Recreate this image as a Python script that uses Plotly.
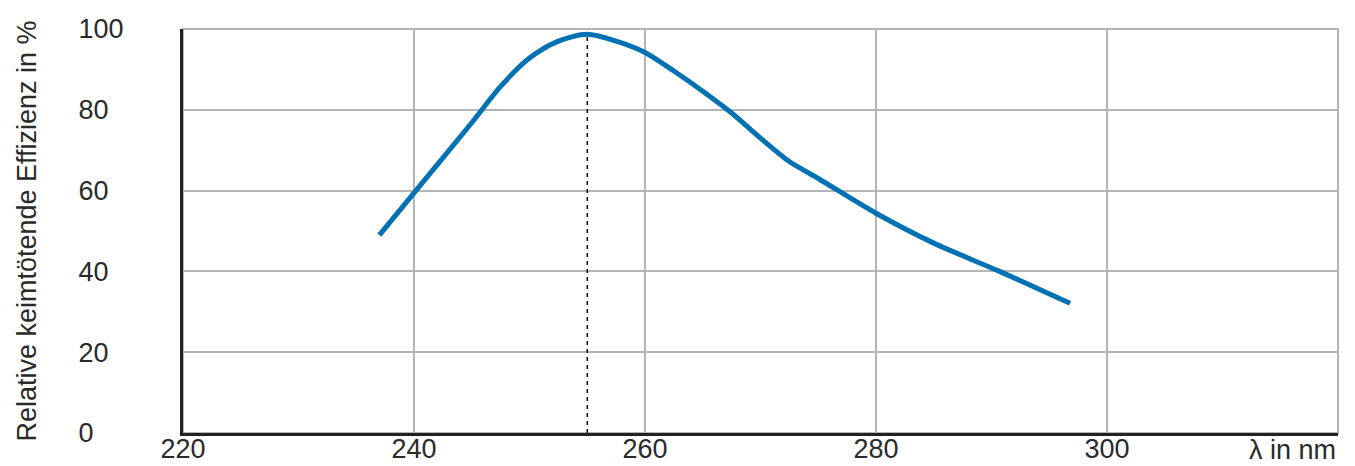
import plotly.graph_objects as go

# Data
wavelength = [237.0, 241.0, 245.0, 247.5, 250.0, 252.5, 255.0, 257.5, 260.0, 262.5,
              265.0, 267.5, 270.0, 272.5, 275.0, 280.0, 285.0, 290.7, 296.8]
efficiency = [49.0, 62.9, 76.8, 85.8, 92.8, 97.0, 98.7, 97.0, 94.2, 89.6,
              84.6, 79.2, 73.0, 67.2, 63.0, 54.4, 47.0, 40.0, 32.1]

peak_x = 255.0
peak_y = 98.7

x_ticks = [220, 240, 260, 280, 300, 320]
x_ticktext = ["220", "240", "260", "280", "300", ""]
y_ticks = [0, 20, 40, 60, 80, 100]

y_title = "Relative keimtötende Effizienz in %"
x_unit_label = "λ in nm"

FONT = "Liberation Sans, Arial, sans-serif"
TICKSIZE = 27
GRID = "#b5b5b5"
TEXT = "#2a2a2a"

# left-aligned y labels: pad with NBSP (2 NBSP = one digit width in Arial metrics)
y_ticktext = [str(v) + "\u00a0" * (2 * (3 - len(str(v)))) for v in y_ticks]

fig = go.Figure()

fig.add_trace(go.Scatter(
    x=[peak_x, peak_x], y=[0, peak_y], mode="lines",
    line=dict(color="#111111", width=1.5, dash="4px,4px"),
    showlegend=False, hoverinfo="skip"))

fig.add_trace(go.Scatter(
    x=wavelength, y=efficiency, mode="lines",
    line=dict(color="#0071b3", width=5, shape="spline", smoothing=0.8),
    showlegend=False))

fig.add_shape(type="rect", xref="paper", yref="paper", x0=0, x1=1, y0=0, y1=1,
              line=dict(color=GRID, width=2), layer="below")

fig.add_annotation(text=x_unit_label, xref="paper", yref="paper", x=1, y=0,
                   xanchor="right", yanchor="top", yshift=0, showarrow=False,
                   font=dict(family=FONT, size=TICKSIZE, color=TEXT))

# page body has an 8px default margin: figure is sized/offset to compensate
fig.update_layout(
    width=1347, height=458,
    margin=dict(l=175, r=17, t=21, b=33, autoexpand=False),
    paper_bgcolor="white", plot_bgcolor="white",
    font=dict(family=FONT, size=TICKSIZE, color=TEXT),
    xaxis=dict(range=[220, 320], tickmode="array", tickvals=x_ticks, ticktext=x_ticktext,
               showgrid=True, gridcolor=GRID, gridwidth=2,
               showline=True, linecolor="#222222", linewidth=3,
               ticks="", zeroline=False, ticklabelstandoff=-10, automargin=False,
               tickfont=dict(family=FONT, size=TICKSIZE, color=TEXT)),
    yaxis=dict(range=[0, 100], tickmode="array", tickvals=y_ticks, ticktext=y_ticktext,
               showgrid=True, gridcolor=GRID, gridwidth=2,
               showline=True, linecolor="#222222", linewidth=3,
               ticks="", zeroline=False, ticklabelstandoff=51, automargin=False,
               tickfont=dict(family=FONT, size=TICKSIZE, color=TEXT),
               title=dict(text=y_title, standoff=35,
                          font=dict(family=FONT, size=27, color=TEXT))),
)

fig.write_html("out.html")
